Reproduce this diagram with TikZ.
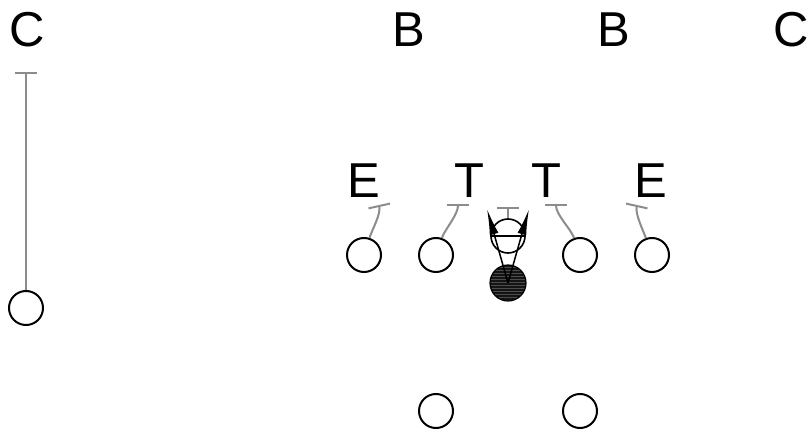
\documentclass[tikz,border=0pt]{standalone}
\usepackage{fontspec}
\setmainfont{Liberation Sans}
\usetikzlibrary{arrows.meta}
\usetikzlibrary{patterns}

\begin{document}
\begin{tikzpicture}[x=1pt,y=-1pt]
\tikzstyle{man}=[circle,draw,line width=2pt,minimum size=34pt,inner sep=0pt,fill=white]
\tikzstyle{letter}=[inner sep=0pt,font=\fontsize{49}{49}\selectfont]
\tikzstyle{block}=[draw=black!45,line width=2pt,-{Bar[width=22pt]}]
\useasboundingbox (0, 0) rectangle (809, 433);

% defense letters
\node[letter] at(27, 30) (cl) {C};
\node[letter] at(409, 30) (bl) {B};
\node[letter] at(614, 30) (br) {B};
\node[letter] at(791, 30) (cr) {C};
\node[letter] at(364, 181) (el) {E};
\node[letter] at(469, 181) (tl) {T};
\node[letter] at(546, 181) (tr) {T};
\node[letter] at(651, 181) (er) {E};

% offense
\node[man] at(26, 308) (wr) {};
\node[man] at(364, 255) (te) {};
\node[man] at(436, 255) (lg) {};
\node[man] at(580, 255) (rg) {};
\node[man] at(652, 255) (rt) {};
\node[man] at(436, 411) (hl) {};
\node[man] at(580, 411) (hr) {};
\node[man,line width=1.6pt] at(508, 236) (ctr) {};
\draw[line width=1.6pt] (ctr.west) -- (ctr.east);

% the ball
\node[circle,draw,line width=1.2pt,minimum size=36pt,inner sep=0pt,
      preaction={fill=black!92},pattern=horizontal lines,pattern color=black!70]
      at(508, 283) (ball) {};

% block ends
\coordinate (bwr) at(26, 72);
\coordinate (bte) at(379, 205);
\coordinate (blg) at(458, 204);
\coordinate (bctr) at(508, 207);
\coordinate (brg) at(556, 204);
\coordinate (brt) at(637, 205);
\draw[block] (wr) -- (bwr);
\draw[block] (te) .. controls (372, 230) and (381, 214) .. (bte);
\draw[block] (lg) .. controls (445, 229) and (458, 215) .. (blg);
\draw[block] (ctr) -- (bctr);
\draw[block] (rg) .. controls (571, 229) and (556, 215) .. (brg);
\draw[block] (rt) .. controls (643, 230) and (635, 214) .. (brt);

% snap paths
\coordinate (sl) at(487, 209);
\coordinate (sr) at(529, 209);
\draw[line width=1.5pt,-{Latex[length=26pt,width=9pt]}] (ball.center) -- (sl);
\draw[line width=1.5pt,-{Latex[length=26pt,width=9pt]}] (ball.center) -- (sr);
\end{tikzpicture}
\end{document}
